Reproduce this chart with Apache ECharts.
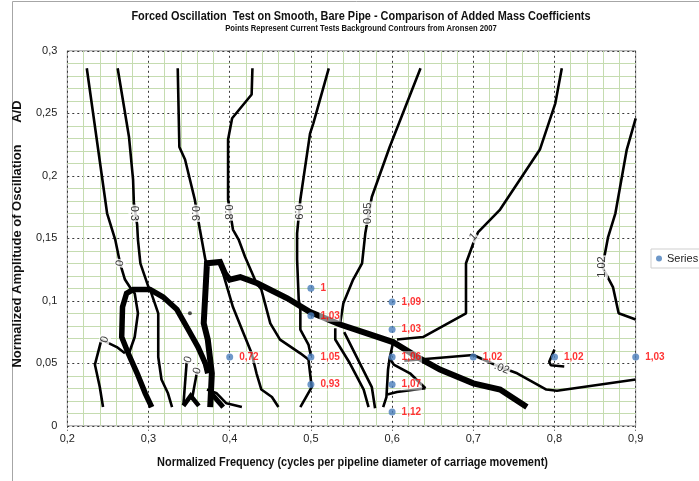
<!DOCTYPE html>
<html><head><meta charset="utf-8">
<script src="https://cdn.jsdelivr.net/npm/echarts@6/dist/echarts.min.js"></script>
<style>html,body{margin:0;padding:0;background:#fff}#c{width:699px;height:481px}</style>
</head><body><div id="c"></div>
<script>
const FONT = "'Liberation Sans Narrow','Arial Narrow','Liberation Sans',Arial,sans-serif";

// ---- chart texts ----
const titleText = 'Forced Oscillation  Test on Smooth, Bare Pipe - Comparison of Added Mass Coefficients';
const subtitleText = 'Points Represent Current Tests Background Contrours from Aronsen 2007';
const xName = 'Normalized Frequency (cycles per pipeline diameter of carriage movement)';
const yName = 'Normalized Amplitude of Oscillation      A/D';

// ---- test points (current tests) ----
const pointX = [0.4, 0.5, 0.5, 0.5, 0.5, 0.6, 0.6, 0.6, 0.6, 0.6, 0.7, 0.8, 0.9];
const pointY = [0.055, 0.11, 0.088, 0.055, 0.033, 0.099, 0.077, 0.055, 0.033, 0.011, 0.055, 0.055, 0.055];
const pointLabel = ['0,72', '1', '1,03', '1,05', '0,93', '1,09', '1,03', '1,06', '1,07', '1,12', '1,02', '1,02', '1,03'];

// ---- axis tick labels ----
const xTickLabels = ['0,2', '0,3', '0,4', '0,5', '0,6', '0,7', '0,8', '0,9'];
const yTickLabels = ['0', '0,05', '0,1', '0,15', '0,2', '0,25', '0,3'];

// ---- background contours (Aronsen 2007), thin lines ----
const contour0a = [[0.224,0.286],[0.249,0.170],[0.259,0.149],[0.265,0.130],[0.271,0.117],[0.279,0.109],[0.283,0.106],[0.287,0.090],[0.283,0.071],[0.276,0.058]];
const contour0b = [[0.244,0.015],[0.240,0.031],[0.234,0.049],[0.242,0.069],[0.261,0.063],[0.271,0.058]];
const contour0c = [[0.343,0.017],[0.347,0.051]];
const contour0d = [[0.354,0.023],[0.360,0.044]];
const contour03 = [[0.262,0.286],[0.276,0.231],[0.281,0.197],[0.282,0.178],[0.286,0.161],[0.287,0.149],[0.290,0.130],[0.300,0.111],[0.302,0.109],[0.312,0.090],[0.312,0.055],[0.316,0.037],[0.324,0.026],[0.329,0.015]];
const contour06a = [[0.336,0.286],[0.338,0.223],[0.345,0.213],[0.357,0.181],[0.363,0.158],[0.370,0.133],[0.372,0.130]];
const contour06b = [[0.390,0.126],[0.404,0.095],[0.417,0.074],[0.427,0.058],[0.433,0.042],[0.439,0.029],[0.452,0.023],[0.460,0.015]];
const contour08 = [[0.428,0.286],[0.427,0.265],[0.403,0.246],[0.398,0.229],[0.398,0.181],[0.404,0.157],[0.411,0.149],[0.419,0.135],[0.433,0.114],[0.439,0.109],[0.450,0.082],[0.462,0.069],[0.487,0.058],[0.497,0.053],[0.501,0.031],[0.487,0.015]];
const contour09 = [[0.522,0.286],[0.503,0.242],[0.499,0.234],[0.487,0.181],[0.483,0.154],[0.483,0.133],[0.485,0.101],[0.487,0.093],[0.487,0.077],[0.497,0.065],[0.500,0.056]];
const contour095a = [[0.635,0.286],[0.597,0.223],[0.575,0.183],[0.567,0.154],[0.563,0.130],[0.552,0.117],[0.540,0.098],[0.536,0.082]];
const contour095b = [[0.530,0.078],[0.530,0.069],[0.548,0.050],[0.565,0.029],[0.571,0.015]];
const contour095c = [[0.541,0.075],[0.558,0.053],[0.575,0.031],[0.579,0.014]];
const contour1 = [[0.809,0.286],[0.801,0.258],[0.782,0.221],[0.733,0.173],[0.706,0.155],[0.700,0.146],[0.691,0.130],[0.691,0.090],[0.638,0.071],[0.606,0.069]];
const contour102a = [[0.900,0.246],[0.889,0.221],[0.875,0.170],[0.866,0.151],[0.859,0.127],[0.872,0.111],[0.879,0.090],[0.900,0.085]];
const contour102b = [[0.615,0.052],[0.700,0.0566],[0.733,0.047],[0.754,0.042],[0.790,0.029],[0.803,0.028],[0.900,0.037]];
const contour102c = [[0.800,0.061],[0.7935,0.0513],[0.7955,0.0485],[0.812,0.0475]];
const contourJ1 = [[0.602,0.069],[0.597,0.054],[0.595,0.045],[0.593,0.023],[0.589,0.015]];
const contourJ2 = [[0.597,0.054],[0.602,0.049],[0.622,0.042],[0.641,0.030]];
const contourJ3 = [[0.594,0.025],[0.606,0.027],[0.641,0.030]];
const contourFoot = [[0.372,0.029],[0.384,0.026],[0.396,0.018],[0.415,0.015]];

// ---- heavy contour lines ----
const thickMain = [[0.376,0.015],[0.378,0.042],[0.373,0.069],[0.368,0.082],[0.370,0.106],[0.372,0.130],[0.388,0.131],[0.394,0.122],[0.400,0.117],[0.413,0.119],[0.434,0.114],[0.471,0.102],[0.499,0.091],[0.536,0.081],[0.569,0.074],[0.601,0.067],[0.634,0.054],[0.659,0.045],[0.700,0.034],[0.733,0.029],[0.766,0.015]];
const thickLoop = [[0.304,0.015],[0.296,0.026],[0.286,0.042],[0.275,0.058],[0.267,0.071],[0.268,0.095],[0.273,0.106],[0.281,0.109],[0.302,0.109],[0.318,0.103],[0.335,0.093],[0.349,0.077],[0.361,0.063],[0.370,0.050],[0.373,0.042]];
const thickFoot = [[0.376,0.027],[0.392,0.015]];
const thickWedge = [[0.343,0.016],[0.352,0.024],[0.362,0.016]];

// ---- contour level labels ----
const contourLabelText = ['0.3', '0.6', '0.8', '0.9', '0.95', '1', '1.02', '.02', '0', '0', '0', '0'];
const contourLabelPos = [[0.282,0.170],[0.357,0.170],[0.398,0.171],[0.484,0.171],[0.570,0.170],[0.700,0.151],[0.859,0.127],[0.735,0.046],[0.265,0.130],[0.246,0.069],[0.349,0.053],[0.360,0.044]];
const contourLabelRotate = [-90, -90, -90, -90, 90, 45, 90, -22, 80, 70, 70, 70];

const strayDots = [[0.351,0.090]];

const thinLines = [contour0a, contour0b, contour0c, contour0d, contour03, contour06a, contour06b, contour08, contour09,
  contour095a, contour095b, contour095c, contour1, contour102a, contour102b, contour102c, contourJ1, contourJ2, contourJ3, contourFoot];
const heavyLines = [[thickMain, 6], [thickLoop, 5.5], [thickFoot, 5], [thickWedge, 4.5]];

const series = [];
thinLines.forEach(d => series.push({ type: 'line', data: d, symbol: 'none', silent: true, z: 2,
  lineStyle: { color: '#000', width: 2.6 } }));
heavyLines.forEach(([d, w]) => series.push({ type: 'line', data: d, symbol: 'none', silent: true, z: 2,
  lineStyle: { color: '#000', width: w, join: 'miter' } }));
series.push({ type: 'scatter', data: strayDots, symbolSize: 4, itemStyle: { color: '#222' }, silent: true, z: 2 });
series.push({
  type: 'scatter', silent: true, z: 3, symbolSize: 0,
  data: contourLabelPos.map((p, i) => ({ value: p, label: { formatter: contourLabelText[i], rotate: contourLabelRotate[i] } })),
  label: { show: true, position: 'inside', color: '#000', fontSize: 11, fontFamily: "'Liberation Sans',Arial,sans-serif",
    backgroundColor: '#fff', padding: [0, 1] }
});
series.push({
  name: 'Series1', type: 'scatter', z: 5, symbolSize: 7,
  data: pointX.map((x, i) => [x, pointY[i]]),
  itemStyle: { color: '#4a7ebb' },
  label: { show: true, position: 'right', distance: 5, formatter: p => pointLabel[p.dataIndex],
    color: '#ff0000', fontWeight: 'bold', fontSize: 10, fontFamily: FONT,
    backgroundColor: 'rgba(255,255,255,0.65)', padding: [1, 1] }
});

function txt(text, x, y, size, sx, rot) {
  return { type: 'text', x: x, y: y, scaleX: sx, scaleY: 1, rotation: rot || 0, silent: true, z: 10,
    style: { text: text, font: 'bold ' + size + 'px "Liberation Sans", Arial, sans-serif', fill: '#111',
      textAlign: 'center', textVerticalAlign: 'middle', align: 'center', verticalAlign: 'middle' } };
}

const chart = echarts.init(document.getElementById('c'), null, { renderer: 'canvas' });
chart.setOption({
  animation: false,
  backgroundColor: '#fff',
  legend: { data: ['Series1'], left: 651, top: 249, icon: 'circle', itemWidth: 6, itemHeight: 6, itemGap: 4,
    borderColor: '#cfcfcf', borderWidth: 1, padding: [4, 5], textStyle: { fontSize: 11, color: '#222', fontFamily: FONT } },
  graphic: [
    { type: 'rect', silent: true, z: -10, shape: { x: 12.5, y: 1.5, width: 800, height: 600 },
      style: { fill: 'none', stroke: '#a6a6a6', lineWidth: 1 } },
    txt(titleText, 361, 16, 13, 0.84),
    txt(subtitleText, 361, 29, 9, 0.85),
    txt(xName, 352.5, 463, 12.5, 0.875),
    txt(yName, 17, 234, 13, 1, Math.PI / 2)
  ],
  grid: { left: 67.3, top: 50.8, width: 568.4, height: 375, show: true, borderColor: '#9a9a9a', borderWidth: 1, backgroundColor: 'transparent' },
  xAxis: {
    type: 'value', min: 0.2, max: 0.9, interval: 0.1,
    axisLine: { show: false },
    axisTick: { show: true, length: 5, lineStyle: { color: '#444', type: [2, 2] } },
    axisLabel: { formatter: (v, i) => xTickLabels[i], fontSize: 11, color: '#222', margin: 8, fontFamily: FONT },
    splitLine: { show: true, lineStyle: { color: '#3a3a3a', type: [2, 3], width: 1 } },
    minorTick: { show: false, splitNumber: 5 },
    minorSplitLine: { show: true, lineStyle: { color: '#c5dcb0', width: 1 } }
  },
  yAxis: {
    type: 'value', min: 0, max: 0.3, interval: 0.05,
    axisLine: { show: false }, axisTick: { show: false },
    axisLabel: { formatter: (v, i) => yTickLabels[i], fontSize: 11, color: '#222', margin: 10, fontFamily: FONT },
    splitLine: { show: true, lineStyle: { color: '#3a3a3a', type: [2, 3], width: 1 } },
    minorTick: { show: false, splitNumber: 5 },
    minorSplitLine: { show: true, lineStyle: { color: '#c5dcb0', width: 1 } }
  },
  series: series
});
</script></body></html>
